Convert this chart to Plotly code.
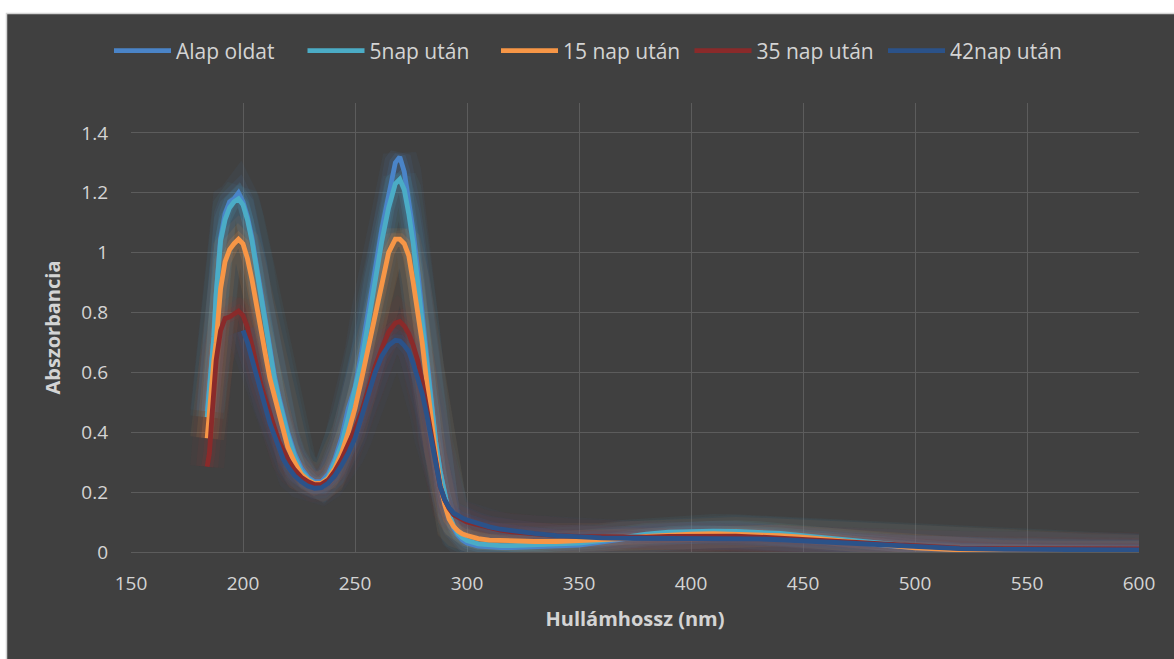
import plotly.graph_objects as go

wavelength = [184, 185, 186, 187, 188, 189, 190, 192, 194, 196, 198, 200, 202, 204, 206, 208, 210,
              212, 214, 216, 218, 220, 223, 226, 229, 232, 235, 238, 241, 244, 247, 250, 253, 256,
              259, 262, 265, 268, 270, 272, 274, 276, 278, 280, 282, 284, 286, 288, 290, 292, 294,
              296, 298, 300, 305, 310, 315, 320, 330, 340, 350, 360, 370, 380, 390, 400, 410, 420,
              430, 440, 450, 460, 470, 480, 490, 500, 520, 540, 560, 580, 600]

alap_oldat = [0.47, 0.55, 0.63, 0.72, 0.86, 0.98, 1.05, 1.13, 1.17, 1.18, 1.20, 1.17, 1.12, 1.05, 0.96, 0.86, 0.77,
              0.67, 0.59, 0.52, 0.46, 0.40, 0.33, 0.28, 0.25, 0.235, 0.235, 0.26, 0.31, 0.38, 0.48, 0.55, 0.67, 0.81,
              0.95, 1.08, 1.19, 1.30, 1.32, 1.27, 1.17, 1.07, 0.94, 0.79, 0.64, 0.50, 0.37, 0.27, 0.19, 0.125, 0.08,
              0.055, 0.04, 0.03, 0.02, 0.016, 0.015, 0.015, 0.017, 0.02, 0.023, 0.033, 0.045, 0.055, 0.063, 0.067, 0.068, 0.067,
              0.063, 0.058, 0.05, 0.042, 0.034, 0.027, 0.02, 0.015, 0.008, 0.005, 0.003, 0.002, 0.002]

nap5 = [0.45, 0.54, 0.62, 0.72, 0.86, 0.97, 1.04, 1.11, 1.15, 1.17, 1.18, 1.16, 1.11, 1.04, 0.95, 0.85, 0.76,
        0.66, 0.58, 0.51, 0.45, 0.39, 0.32, 0.27, 0.245, 0.23, 0.23, 0.25, 0.30, 0.36, 0.45, 0.54, 0.64, 0.77,
        0.91, 1.04, 1.15, 1.23, 1.245, 1.21, 1.13, 1.03, 0.90, 0.76, 0.62, 0.49, 0.37, 0.27, 0.19, 0.125, 0.088,
        0.062, 0.048, 0.038, 0.027, 0.022, 0.021, 0.021, 0.023, 0.026, 0.03, 0.038, 0.05, 0.06, 0.066, 0.069, 0.07, 0.069,
        0.066, 0.062, 0.055, 0.047, 0.039, 0.032, 0.025, 0.019, 0.011, 0.007, 0.005, 0.004, 0.003]

nap15 = [0.38, 0.47, 0.57, 0.64, 0.70, 0.79, 0.88, 0.97, 1.01, 1.03, 1.045, 1.03, 0.98, 0.91, 0.82, 0.74, 0.66,
         0.58, 0.52, 0.46, 0.40, 0.35, 0.30, 0.26, 0.24, 0.228, 0.23, 0.245, 0.28, 0.33, 0.40, 0.48, 0.58, 0.69,
         0.79, 0.90, 1.00, 1.045, 1.045, 1.03, 0.99, 0.90, 0.81, 0.70, 0.57, 0.44, 0.33, 0.23, 0.16, 0.11, 0.085,
         0.07, 0.06, 0.055, 0.045, 0.04, 0.038, 0.036, 0.035, 0.035, 0.037, 0.04, 0.045, 0.052, 0.057, 0.06, 0.061, 0.06,
         0.058, 0.055, 0.05, 0.043, 0.035, 0.027, 0.02, 0.014, 0.007, 0.003, 0.001, 0.0, 0.0]

nap35 = [0.285, 0.33, 0.44, 0.55, 0.64, 0.69, 0.74, 0.78, 0.785, 0.795, 0.805, 0.79, 0.75, 0.69, 0.62, 0.56, 0.51,
         0.46, 0.41, 0.37, 0.34, 0.31, 0.275, 0.25, 0.235, 0.225, 0.226, 0.24, 0.27, 0.31, 0.36, 0.41, 0.47, 0.55,
         0.62, 0.68, 0.735, 0.765, 0.77, 0.755, 0.73, 0.69, 0.64, 0.57, 0.48, 0.39, 0.31, 0.22, 0.175, 0.145, 0.125,
         0.115, 0.108, 0.10, 0.09, 0.08, 0.073, 0.067, 0.06, 0.055, 0.052, 0.05, 0.049, 0.05, 0.052, 0.053, 0.054, 0.053,
         0.05, 0.046, 0.042, 0.037, 0.032, 0.027, 0.022, 0.018, 0.013, 0.011, 0.01, 0.01, 0.01]

nap42 = [None, None, None, None, None, None, None, None, None, None, None, 0.74, 0.70, 0.645, 0.59, 0.535, 0.48,
         0.43, 0.39, 0.35, 0.31, 0.285, 0.255, 0.235, 0.22, 0.213, 0.215, 0.23, 0.255, 0.29, 0.33, 0.38, 0.45, 0.52,
         0.60, 0.655, 0.69, 0.707, 0.705, 0.69, 0.67, 0.63, 0.585, 0.53, 0.46, 0.38, 0.30, 0.22, 0.175, 0.148, 0.13,
         0.12, 0.113, 0.107, 0.095, 0.084, 0.076, 0.07, 0.062, 0.055, 0.05, 0.047, 0.046, 0.046, 0.047, 0.047, 0.047, 0.046,
         0.044, 0.041, 0.037, 0.033, 0.028, 0.023, 0.019, 0.015, 0.011, 0.009, 0.008, 0.007, 0.007]

series_names = ["Alap oldat", "5nap után", "15 nap után", "35 nap után", "42nap után"]
series_values = [alap_oldat, nap5, nap15, nap35, nap42]
series_colors = ["#4a84c8", "#4bacc6", "#f79646", "#8a2a2a", "#2b5289"]
glow_colors = ["rgba(74,132,200,{a})", "rgba(75,172,198,{a})", "rgba(247,150,70,{a})",
               "rgba(150,50,50,{a})", "rgba(60,90,150,{a})"]

x_ticks = [150, 200, 250, 300, 350, 400, 450, 500, 550, 600]

FONT = "Open Sans, Noto Sans, sans-serif"
TXT = "#d4d4d4"

fig = go.Figure()

# soft glow layers under the lines
for vals, gc in zip(series_values, glow_colors):
    for w, a in [(34, 0.06), (22, 0.09), (12, 0.14)]:
        fig.add_trace(go.Scatter(x=wavelength, y=vals, mode="lines",
                                 line=dict(color=gc.format(a=a), width=w),
                                 showlegend=False, hoverinfo="skip", connectgaps=False))

for name, vals, col in zip(series_names, series_values, series_colors):
    fig.add_trace(go.Scatter(x=wavelength, y=vals, mode="lines", name=name,
                             line=dict(color=col, width=4.8)))

W, H = 1174, 659
L, R, T, B = 131, 1174 - 1139, 103, 659 - 552
pw, ph = W - L - R, H - T - B

def px_x(px):
    return (px - L) / pw

def px_y(py):
    return (H - B - py) / ph

fig.add_shape(type="rect", xref="paper", yref="paper", layer="below",
              x0=px_x(6.5), x1=px_x(1185), y0=px_y(670), y1=px_y(13.5),
              fillcolor="#404040", line=dict(color="#d4d4d4", width=1.5))

fig.update_layout(
    width=W, height=H,
    margin=dict(l=L, r=R, t=T, b=B),
    paper_bgcolor="white",
    plot_bgcolor="#404040",
    font=dict(family=FONT, color=TXT, size=19),
    legend=dict(orientation="h", x=px_x(109), xanchor="left", y=px_y(51), yanchor="middle",
                font=dict(size=21, color=TXT), bgcolor="rgba(0,0,0,0)",
                itemwidth=57, entrywidth=121.5, entrywidthmode="pixels", tracegroupgap=0),
    xaxis=dict(range=[150, 600], tickvals=x_ticks, ticktext=[str(v) for v in x_ticks],
               showgrid=True, gridcolor="#5c5c5c", gridwidth=1.3, zeroline=False,
               showline=True, linecolor="#5c5c5c", linewidth=1.3,
               ticks="", ticklabelstandoff=14, tickfont=dict(size=19, color=TXT),
               title=dict(text="<b>Hullámhossz (nm)</b>", font=dict(size=20, color=TXT), standoff=17)),
    yaxis=dict(range=[0, 1.5], tick0=0, dtick=0.2,
               showgrid=True, gridcolor="#5c5c5c", gridwidth=1.3, zeroline=False,
               ticks="", ticklabelstandoff=22, tickfont=dict(size=19, color=TXT),
               title=dict(text="<b>Abszorbancia</b>", font=dict(size=20, color=TXT), standoff=15)),
)

fig.write_html("out.html")
